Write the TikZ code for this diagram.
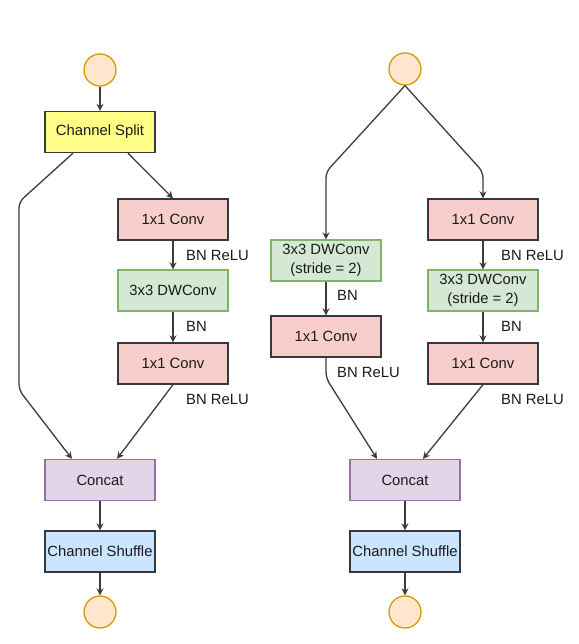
\documentclass[tikz,border=0pt]{standalone}
\usepackage{fontspec}
\setmainfont{Liberation Sans}
\usetikzlibrary{arrows.meta}
\definecolor{iobg}{HTML}{FFE6CC}
\definecolor{ioline}{HTML}{D79B00}
\definecolor{splitbg}{HTML}{FFFF88}
\definecolor{convbg}{HTML}{F8CECC}
\definecolor{dwbg}{HTML}{D5E8D4}
\definecolor{dwline}{HTML}{82B366}
\definecolor{catbg}{HTML}{E1D5E7}
\definecolor{catline}{HTML}{9673A6}
\definecolor{shufbg}{HTML}{CCE5FF}
\definecolor{boxline}{HTML}{36393D}
\definecolor{edge}{HTML}{3C3C3C}
\definecolor{txt}{HTML}{1A1A1A}
\tikzset{
  blk/.style={draw=boxline,line width=1.3pt,minimum width=110pt,minimum height=41pt,
    inner sep=0pt,text=txt,font=\fontsize{14.8}{18.5}\selectfont},
  splitbox/.style={blk,fill=splitbg},
  convbox/.style={blk,fill=convbg},
  dwbox/.style={blk,fill=dwbg,draw=dwline,align=center},
  catbox/.style={blk,fill=catbg,draw=catline},
  shufbox/.style={blk,fill=shufbg},
  io/.style={circle,draw=ioline,fill=iobg,line width=1.3pt,minimum size=32pt,inner sep=0pt},
  link/.style={draw=edge,line width=1.3pt,-{Stealth[length=7pt,width=7pt]}},
  lbl/.style={anchor=west,inner sep=0pt,text=txt,font=\fontsize{14.8}{18.5}\selectfont}
}
\begin{document}
\begin{tikzpicture}[x=1pt,y=-1pt]
\useasboundingbox (0,0) rectangle (578,644);
\node[io] (inA) at (100,70) {};
\node[splitbox] (split) at (100,132) {Channel Split};
\node[convbox] (convA1) at (173,219.5) {1x1 Conv};
\node[dwbox] (dwA) at (173,290.5) {3x3 DWConv};
\node[convbox] (convA2) at (173,363.5) {1x1 Conv};
\node[catbox] (catA) at (100,480) {Concat};
\node[shufbox] (shufA) at (100,551.5) {Channel Shuffle};
\node[io] (outA) at (100,612) {};
\node[lbl] (bnA1) at (186,255) {BN ReLU};
\node[lbl] (bnA2) at (186,326) {BN};
\node[lbl] (bnA3) at (186,399) {BN ReLU};
\draw[link] (inA) -- (split);
\draw[link,rounded corners=6pt] ([xshift=-27pt]split.south) -- (19,202) -- (19,390) -- ([xshift=-28pt]catA.north);
\draw[link] ([xshift=28pt]split.south) -- (convA1.north);
\draw[link] (convA1) -- (dwA);
\draw[link] (dwA) -- (convA2);
\draw[link] (convA2.south) -- ([xshift=17pt]catA.north);
\draw[link] (catA) -- (shufA);
\draw[link] (shufA) -- (outA);
\node[io] (inB) at (405,69) {};
\node[dwbox] (dwB1) at (326,260.5) {3x3 DWConv\\(stride = 2)};
\node[convbox] (convB1) at (326,336.5) {1x1 Conv};
\node[convbox] (convB2) at (483,219.5) {1x1 Conv};
\node[dwbox] (dwB2) at (483,290.5) {3x3 DWConv\\(stride = 2)};
\node[convbox] (convB3) at (483,363.5) {1x1 Conv};
\node[catbox] (catB) at (405,480) {Concat};
\node[shufbox] (shufB) at (405,551.5) {Channel Shuffle};
\node[io] (outB) at (405,612) {};
\node[lbl] (bnB1) at (337,295) {BN};
\node[lbl] (bnB2) at (337,372) {BN ReLU};
\node[lbl] (bnB3) at (501,255) {BN ReLU};
\node[lbl] (bnB4) at (501,326) {BN};
\node[lbl] (bnB5) at (501,399) {BN ReLU};
\draw[link,rounded corners=6pt] (inB.south) -- (dwB1.north |- 0,172) -- (dwB1.north);
\draw[link,rounded corners=6pt] (inB.south) -- (convB2.north |- 0,172) -- (convB2.north);
\draw[link] (dwB1) -- (convB1);
\draw[link,rounded corners=6pt] (convB1.south) -- (convB1.south |- 0,378) -- ([xshift=-28pt]catB.north);
\draw[link] (convB2) -- (dwB2);
\draw[link] (dwB2) -- (convB3);
\draw[link] (convB3.south) -- ([xshift=18pt]catB.north);
\draw[link] (catB) -- (shufB);
\draw[link] (shufB) -- (outB);
\end{tikzpicture}
\end{document}
